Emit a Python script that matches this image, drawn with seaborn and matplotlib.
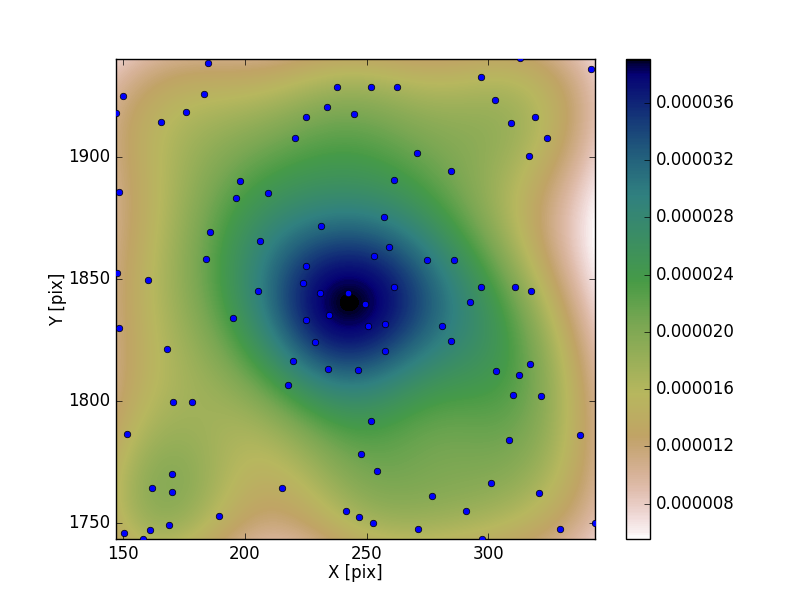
import matplotlib
matplotlib.use("Agg")
import matplotlib.pyplot as plt
import numpy as np
import seaborn as sns
from matplotlib.ticker import FormatStrFormatter

x_pix = [185.0, 150.0, 147.0, 165.7, 176.0, 183.4, 237.8, 233.6, 224.9, 244.7, 220.4, 198.2, 196.5,
         209.3, 148.4, 185.8, 206.4, 231.1, 184.2, 224.9, 147.5, 160.3, 223.7, 205.2, 230.7, 242.2,
         251.7, 262.4, 297.0, 313.0, 342.2, 302.7, 309.3, 319.2, 324.1, 316.7, 270.6, 284.6, 261.1,
         257.0, 259.1, 252.9, 274.7, 285.8, 297.0, 310.9, 317.5, 261.1, 292.4, 195.3, 148.3, 168.1,
         170.6, 178.4, 151.7, 170.2, 162.0, 170.2, 189.5, 169.0, 161.1, 150.5, 158.3, 215.1, 241.4,
         246.7, 217.9, 219.6, 234.0, 246.6, 228.6, 224.9, 234.4, 249.2, 250.4, 257.4, 257.4, 280.9,
         284.6, 303.1, 312.6, 317.2, 310.1, 321.6, 308.5, 337.7, 251.7, 247.8, 254.2, 301.1, 276.8,
         320.8, 290.8, 252.5, 271.0, 297.4, 329.5, 343.9]
y_pix = [1938.3, 1924.8, 1918.0, 1914.2, 1918.3, 1925.7, 1928.5, 1920.3, 1916.2, 1917.4, 1907.6, 1890.3, 1883.3,
         1885.0, 1885.8, 1869.3, 1865.7, 1871.8, 1858.3, 1855.3, 1852.5, 1849.6, 1848.4, 1845.1, 1844.3, 1844.3,
         1928.5, 1928.5, 1932.6, 1940.4, 1935.9, 1923.2, 1913.7, 1916.2, 1907.6, 1900.2, 1901.4, 1894.4, 1890.7,
         1875.5, 1863.2, 1859.5, 1857.8, 1857.8, 1846.7, 1846.7, 1845.1, 1846.7, 1840.6, 1834.0, 1829.9, 1821.3,
         1799.5, 1799.5, 1786.3, 1769.9, 1764.1, 1762.5, 1752.6, 1748.9, 1746.9, 1745.6, 1743.3, 1764.1, 1754.7,
         1752.2, 1806.5, 1816.3, 1813.0, 1812.6, 1824.1, 1833.2, 1835.2, 1839.8, 1830.7, 1831.5, 1820.4, 1830.7,
         1824.5, 1812.2, 1810.6, 1815.1, 1802.3, 1801.9, 1783.9, 1785.9, 1791.7, 1778.1, 1771.1, 1766.2, 1760.8,
         1762.1, 1754.7, 1749.7, 1747.3, 1743.3, 1747.3, 1749.7]
x_limits = [147.1, 343.8]
y_limits = [1743.3, 1940.1]
cbar_ticks = [0.000008, 0.000012, 0.000016, 0.000020, 0.000024, 0.000028, 0.000032, 0.000036]

plt.style.use("classic")
fig = plt.figure(figsize=(8, 6), dpi=100, facecolor="white")
ax = fig.add_axes([0.145, 0.1015, 0.599, 0.8])
cax = fig.add_axes([0.783, 0.1015, 0.03, 0.8])

# mass-based levels, packed at the thin end so the pale edges don't band
levels = np.concatenate([np.linspace(0, 0.03, 200, endpoint=False), np.linspace(0.03, 1, 500)])
sns.kdeplot(x=x_pix, y=y_pix, ax=ax, fill=True, levels=levels, cmap="gist_earth_r",
            clip=(x_limits, y_limits), gridsize=250, bw_adjust=1.0, antialiased=False,
            cbar=True, cbar_ax=cax,
            cbar_kws={"ticks": cbar_ticks, "format": FormatStrFormatter("%.6f"), "spacing": "proportional"})
sns.scatterplot(x=x_pix, y=y_pix, ax=ax, color="blue", edgecolor="black", linewidth=0.5, s=22, zorder=5)

ax.set_xlim(x_limits)
ax.set_ylim(y_limits)
ax.set_xticks([150, 200, 250, 300])
ax.set_yticks([1750, 1800, 1850, 1900])
ax.set_xlabel("X [pix]", fontsize=12, labelpad=1)
ax.set_ylabel("Y [pix]", fontsize=12, labelpad=1)
ax.tick_params(labelsize=12, pad=4)
cax.tick_params(labelsize=12, pad=4)

fig.savefig("out.png", dpi=100)
